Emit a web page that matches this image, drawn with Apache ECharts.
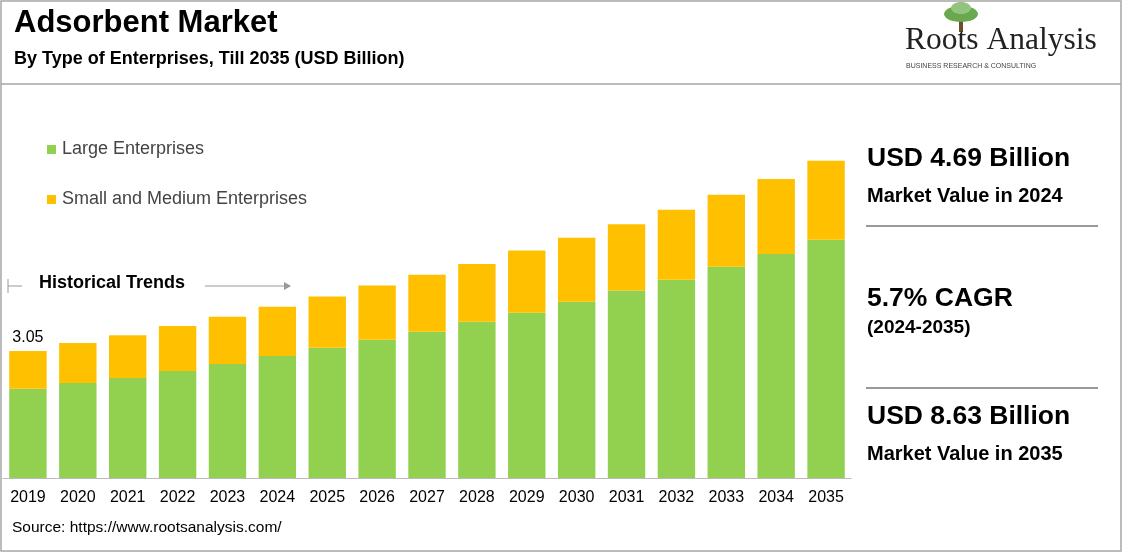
<!DOCTYPE html>
<html>
<head>
<meta charset="utf-8">
<script src="https://cdn.jsdelivr.net/npm/echarts@6/dist/echarts.min.js"></script>
<style>body{margin:0;background:#fff}#main{width:1123px;height:553px}</style>
</head>
<body>
<div id="main"></div>
<script>
var years = ['2019','2020','2021','2022','2023','2024','2025','2026','2027','2028','2029','2030','2031','2032','2033','2034','2035'];
var largeEnt = [2.14,2.28,2.40,2.57,2.74,2.93,3.13,3.32,3.51,3.75,3.97,4.23,4.50,4.76,5.07,5.38,5.72];
var smeEnt = [0.91,0.96,1.03,1.08,1.13,1.18,1.23,1.30,1.37,1.39,1.49,1.54,1.59,1.68,1.73,1.80,1.90];

var chart = echarts.init(document.getElementById('main'));
var F = 'Arial, "Liberation Sans", sans-serif';
function txt(x, y, s, size, weight, color, family, extra) {
  var st = {text:s, font:(weight||'normal')+' '+size+'px '+(family||F), fill:color||'#000'};
  if (extra) for (var k in extra) st[k] = extra[k];
  return {type:'text', left:x, top:y, style:st};
}
function line(x1, y1, x2, y2, c, w) {
  return {type:'line', shape:{x1:x1,y1:y1,x2:x2,y2:y2}, style:{stroke:c, lineWidth:w||1}};
}
chart.setOption({
  animation:false,
  grid:{left:3, right:272, top:99, bottom:75},
  xAxis:{type:'category', data:years, axisTick:{show:false},
    axisLine:{lineStyle:{color:'#bbb'}},
    axisLabel:{color:'#000', fontSize:16, fontFamily:F, margin:12}},
  yAxis:{type:'value', min:0, max:9.1, show:false, splitLine:{show:false}},
  legend:{show:false},
  series:[
    {name:'Large Enterprises', type:'bar', stack:'a', data:largeEnt, barWidth:'75%',
      itemStyle:{color:'#92d050'}},
    {name:'Small and Medium Enterprises', type:'bar', stack:'a', data:smeEnt,
      itemStyle:{color:'#ffc000'},
      label:{show:true, position:'top', color:'#000', fontSize:16, fontFamily:F,
        formatter:function(p){ return p.dataIndex===0 ? (largeEnt[0]+smeEnt[0]).toFixed(2) : ''; }}}
  ],
  graphic:[
    {type:'rect', shape:{x:1,y:1,width:1120,height:550}, style:{fill:'none', stroke:'#a6a6a6', lineWidth:1.5}},
    line(1, 84, 1121, 84, '#a6a6a6', 1.5),
    txt(14, 8, 'Adsorbent Market', 31, 'bold'),
    txt(14, 50, 'By Type of Enterprises, Till 2035 (USD Billion)', 18, 'bold'),
    {type:'rect', shape:{x:959, y:14, width:4, height:18}, style:{fill:'#6b4f2a'}},
    {type:'ellipse', shape:{cx:961, cy:14, rx:17, ry:8}, style:{fill:'#6aa84f'}},
    {type:'ellipse', shape:{cx:961, cy:8, rx:10, ry:6}, style:{fill:'#93c47d'}},
    txt(905, 25, 'Roots Analysis', 31.5, 'normal', '#222', '"Liberation Serif", serif'),
    txt(906, 63, 'BUSINESS RESEARCH & CONSULTING', 7, 'normal', '#444', null, {letterSpacing:3.3}),
    {type:'rect', shape:{x:47, y:145, width:9, height:9}, style:{fill:'#92d050'}},
    txt(62, 140, 'Large Enterprises', 18, 'normal', '#444'),
    {type:'rect', shape:{x:47, y:195, width:9, height:9}, style:{fill:'#ffc000'}},
    txt(62, 190, 'Small and Medium Enterprises', 18, 'normal', '#444'),
    line(8, 279, 8, 293, '#999', 1),
    line(8, 286, 22, 286, '#999', 1),
    txt(39, 274, 'Historical Trends', 18, 'bold'),
    line(205, 286, 290, 286, '#999', 1),
    {type:'polygon', shape:{points:[[291,286],[284,282],[284,290]]}, style:{fill:'#999'}},
    txt(867, 145, 'USD 4.69 Billion', 26.5, 'bold'),
    txt(867, 186, 'Market Value in 2024', 20, 'bold'),
    line(866, 226, 1098, 226, '#999', 2),
    txt(867, 285, '5.7% CAGR', 26.5, 'bold'),
    txt(867, 318, '(2024-2035)', 19, 'bold'),
    line(866, 388, 1098, 388, '#999', 2),
    txt(867, 403, 'USD 8.63 Billion', 26.5, 'bold'),
    txt(867, 444, 'Market Value in 2035', 20, 'bold'),
    txt(12, 520, 'Source: https://www.rootsanalysis.com/', 15.5, 'normal', '#000')
  ]
});
</script>
</body>
</html>
